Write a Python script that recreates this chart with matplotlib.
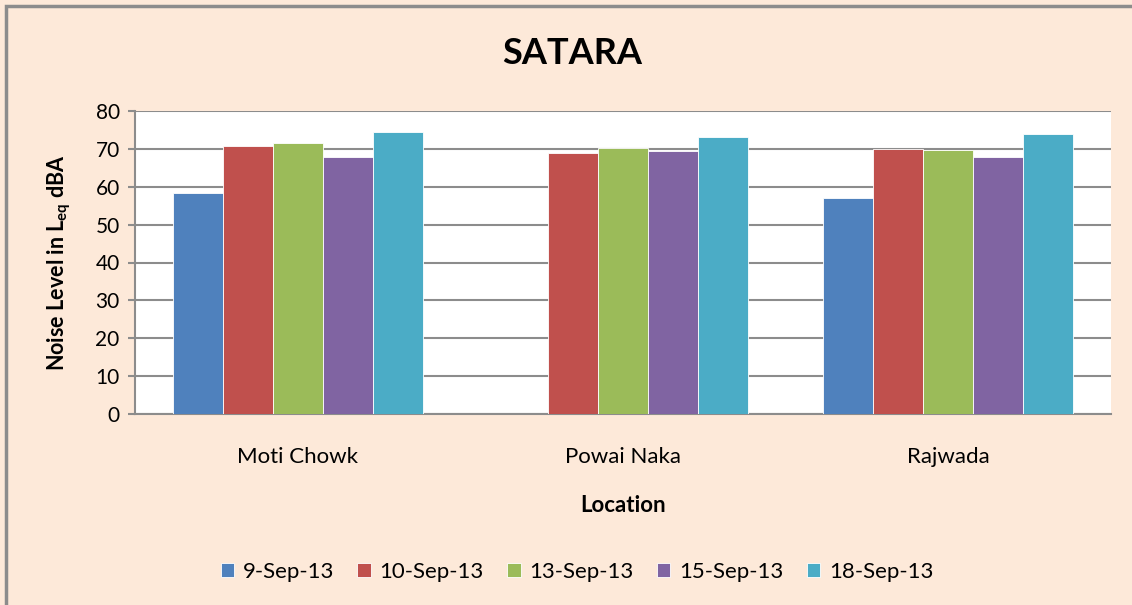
import matplotlib as mpl
mpl.use('Agg')
import matplotlib.pyplot as plt
import matplotlib.patches as mpatches
import numpy as np

locations = ["Moti Chowk", "Powai Naka", "Rajwada"]
dates = ["9-Sep-13", "10-Sep-13", "13-Sep-13", "15-Sep-13", "18-Sep-13"]
sep09 = [58.4, np.nan, 57.0]
sep10 = [70.8, 68.9, 70.0]
sep13 = [71.5, 70.2, 69.7]
sep15 = [67.8, 69.5, 67.8]
sep18 = [74.4, 73.1, 73.9]
series = [sep09, sep10, sep13, sep15, sep18]
colors = ["#4F81BD", "#C0504D", "#9BBB59", "#8064A2", "#4BACC6"]

plt.rcParams['font.family'] = ['Lato', 'DejaVu Sans']
plt.rcParams['mathtext.fontset'] = 'custom'
plt.rcParams['mathtext.bf'] = 'Lato:bold'
plt.rcParams['mathtext.rm'] = 'Lato'

bg = "#FDE9D9"
fig = plt.figure(figsize=(11.32, 6.05), dpi=100, facecolor=bg)
ax = fig.add_axes([135/1132, 1 - 414/605, (1111 - 135)/1132, (414 - 111)/605])
ax.set_facecolor("white")

x = np.arange(len(locations))
w = 1 / 6.5
for i, (vals, c, lab) in enumerate(zip(series, colors, dates)):
    ax.bar(x + (i - 2) * w, vals, w, color=c, edgecolor="white", linewidth=0.6,
           label=lab, zorder=3)

ax.set_xlim(-0.5, 2.5)
ax.set_ylim(0, 80)
ax.set_yticks(range(0, 81, 10))
ax.grid(axis="y", color="#8C8C8C", linewidth=1.5, zorder=0)
ax.set_axisbelow(True)
for s in ["top", "right"]:
    ax.spines[s].set_visible(False)
for s in ["left", "bottom"]:
    ax.spines[s].set_color("#8C8C8C")
    ax.spines[s].set_linewidth(1.5)
ax.tick_params(axis="y", direction="out", length=5, width=1.5, color="#8C8C8C",
               labelsize=15, pad=6)
ax.tick_params(axis="x", length=0, labelsize=16, pad=24)
ax.set_xticks(x)
ax.set_xticklabels(locations)

ax.set_xlabel("Location", fontsize=16, fontweight="bold", labelpad=20)
ax.set_ylabel(r"Noise Level in $\mathbf{L_{eq}}$ dBA", fontsize=15.5,
              fontweight="bold", labelpad=16)
fig.text(572/1132, 1 - 53/605, "SATARA", ha="center", va="center",
         fontsize=26, fontweight="bold")

fig.legend(loc="center", bbox_to_anchor=(577/1132, 1 - 572/605), ncol=5,
           frameon=False, fontsize=16, handlelength=0.6, handleheight=0.6,
           columnspacing=1.05, handletextpad=0.4)

border = mpatches.Rectangle((6/1132, -0.1), 1.2, 1 - 6/605 + 0.1,
                            transform=fig.transFigure, fill=False,
                            edgecolor="#8C8C8C", linewidth=2.5, clip_on=False)
fig.patches.append(border)

plt.savefig("out.png", dpi=100, facecolor=bg)
